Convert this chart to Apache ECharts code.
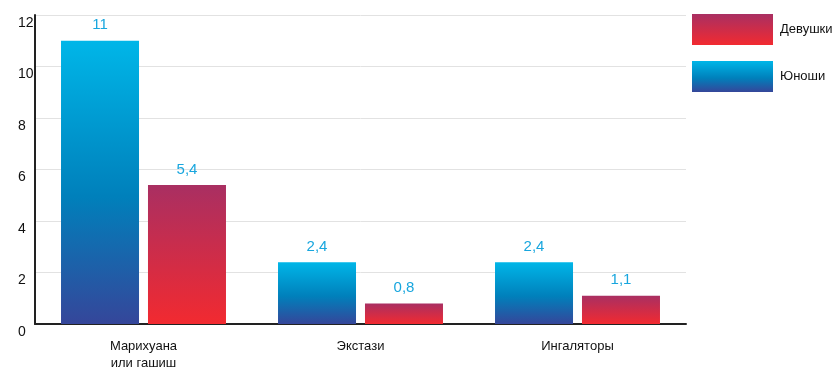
<!DOCTYPE html>
<html><head><meta charset="utf-8">
<script src="https://cdn.jsdelivr.net/npm/echarts@6/dist/echarts.min.js"></script>
<style>html,body{margin:0;padding:0;background:#fff}#c{width:832px;height:369px}</style>
</head><body><div id="c"></div>
<script>
const categories = ['Марихуана\nили гашиш', 'Экстази', 'Ингаляторы'];
const boys = [11, 2.4, 2.4];
const girls = [5.4, 0.8, 1.1];
const seriesNames = ['Юноши', 'Девушки'];
const yTicks = { min: 0, max: 12, interval: 2 };

const FONT = "'Liberation Sans', Arial, sans-serif";
const blueGrad = new echarts.graphic.LinearGradient(0, 0, 0, 1, [
  { offset: 0, color: '#00b6e8' }, { offset: 0.55, color: '#0080bb' }, { offset: 1, color: '#35469a' }]);
const redGrad = new echarts.graphic.LinearGradient(0, 0, 0, 1, [
  { offset: 0, color: '#a92f62' }, { offset: 1, color: '#f22a30' }]);
const fmt = p => String(p.value).replace('.', ',');
const labelStyle = { show: true, position: 'top', distance: 8, color: '#18a6de', fontSize: 15, fontFamily: FONT, formatter: fmt };

const chart = echarts.init(document.getElementById('c'), null, { renderer: 'canvas' });
chart.setOption({
  animation: false,
  grid: { left: 35, right: 146, top: 15, bottom: 45, containLabel: false, outerBoundsMode: 'none' },
  legend: {
    data: [seriesNames[1], seriesNames[0]], orient: 'vertical', left: 692, top: 14, padding: 0,
    itemWidth: 81, itemHeight: 31, itemGap: 16, icon: 'rect',
    textStyle: { fontSize: 13, color: '#111', fontFamily: FONT, padding: [0, 0, 0, 2] }
  },
  xAxis: {
    type: 'category', data: categories,
    axisLine: { lineStyle: { color: '#222', width: 2 } },
    axisTick: { show: false },
    axisLabel: { color: '#111', fontSize: 13, margin: 14, lineHeight: 17, fontFamily: FONT }
  },
  yAxis: {
    type: 'value', min: yTicks.min, max: yTicks.max, interval: yTicks.interval,
    axisLine: { show: true, lineStyle: { color: '#222', width: 2 } },
    axisTick: { show: false },
    splitLine: { lineStyle: { color: '#e2e2e2', width: 1 } },
    axisLabel: { color: '#111', fontSize: 14, align: 'left', verticalAlign: 'top', margin: 17, padding: [1, 0, 0, 0], fontFamily: FONT }
  },
  series: [
    { name: seriesNames[0], type: 'bar', data: boys, barWidth: 78, barGap: '11.5%', itemStyle: { color: blueGrad }, label: labelStyle },
    { name: seriesNames[1], type: 'bar', data: girls, barWidth: 78, barGap: '11.5%', itemStyle: { color: redGrad }, label: labelStyle }
  ]
});
</script></body></html>
